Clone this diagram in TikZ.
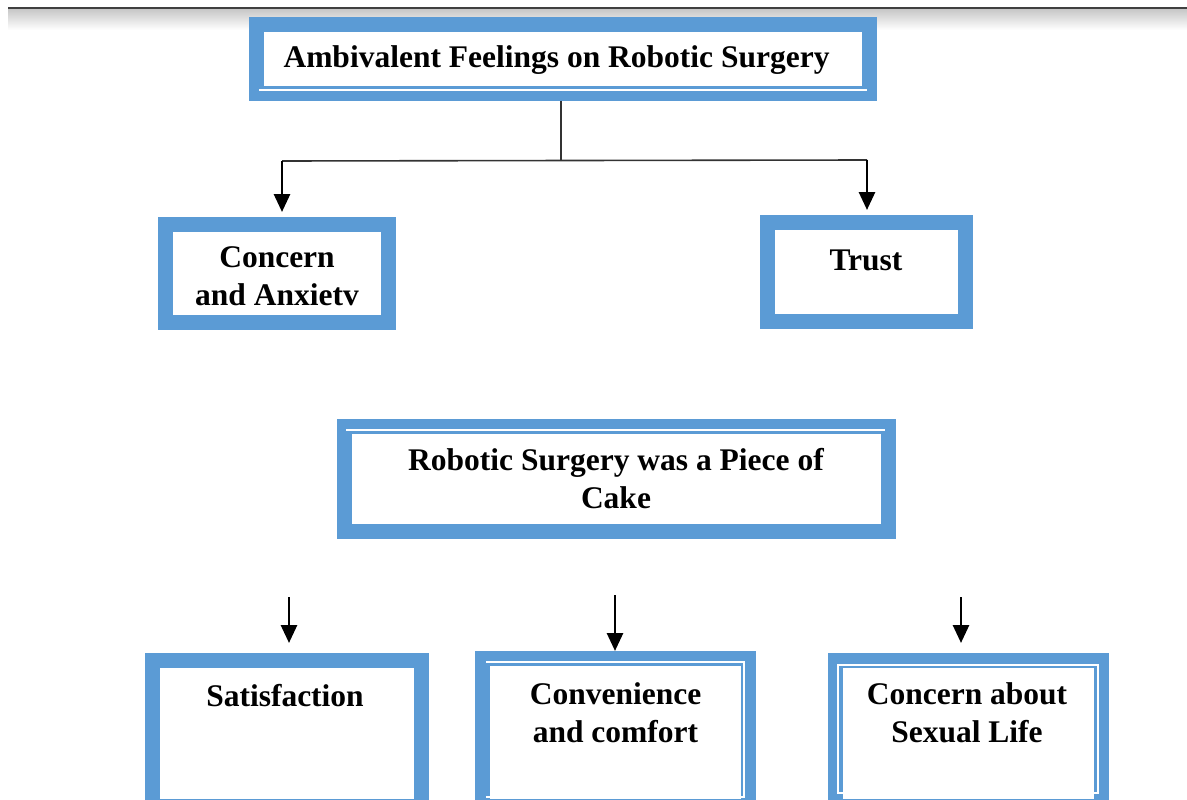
\documentclass[tikz,border=0pt]{standalone}
\usepackage{fontspec}
\setmainfont{Liberation Serif}
\usetikzlibrary{arrows.meta}
\definecolor{boxblue}{RGB}{91,155,213}

\tikzset{
  box/.style={draw=boxblue, line width=15pt, fill=white, inner sep=0pt, outer sep=7.5pt},
  lbl/.style={font=\fontsize{31.5}{37.5}\selectfont\bfseries, align=center, anchor=base, inner sep=0pt},
  conn/.style={line width=1.6pt, black!80},
  arr/.style={line width=2.8pt, -{Triangle[length=18pt,width=16pt]}},
  wline/.style={white, line width=1.5pt}
}

\begin{document}
\begin{tikzpicture}[x=1pt,y=-1pt]
\useasboundingbox (0,0) rectangle (1187,800);
\clip (0,0) rectangle (1187,800);

\shade[top color=black!22, bottom color=white] (8,9) rectangle (1187,30);
\draw[line width=2.4pt, black!75] (8,8) -- (1187,8);

% first theme
\node[box, minimum width=613pt, minimum height=69pt] (feel) at (563,59) {};
\draw[wline] (259,90) -- (867,90);
\node[lbl] (feelt) at (556.5,68) {Ambivalent Feelings on Robotic Surgery};

\node[box, minimum width=223pt, minimum height=98pt] (anx) at (277,273.5) {};
\node[lbl] (anxt) at (277,305) {Concern\\and Anxietv};

\node[box, minimum width=198pt, minimum height=99pt] (trust) at (866.5,272) {};
\node[lbl] (trustt) at (866,270) {Trust};

\coordinate (split) at (561,160);
\coordinate (l) at (282,161);
\coordinate (r) at (867,160);
\draw[conn] (feel.south -| split) -- (split);
\draw[conn] (l) -- (r);
\draw[arr, shorten >=5pt] (l) -- (l |- anx.north);
\draw[arr, shorten >=5pt] (r) -- (r |- trust.north);

% second theme
\node[box, minimum width=544pt, minimum height=105pt] (cake) at (616.5,479) {};
\draw[wline] (346,430) -- (885,430);
\node[lbl] (caket) at (616,508) {Robotic Surgery was a Piece of\\Cake};

\node[box, minimum width=269pt, minimum height=145.5pt] (sat) at (287,733.25) {};
\node[lbl] (satt) at (285,706) {Satisfaction};

\node[box, minimum width=266pt, minimum height=147.5pt] (conv) at (615.5,732.25) {};
\draw[wline] (486,662) -- (744,662) -- (744,797) -- (486,797);
\node[lbl] (convt) at (615.5,742) {Convenience\\and comfort};

\node[box, minimum width=266pt, minimum height=145.5pt] (sex) at (968.5,733.25) {};
\draw[wline] (838,665) rectangle (1098,793);
\node[lbl] (sext) at (967,742) {Concern about\\Sexual Life};

\coordinate (a1) at (289,597);
\coordinate (a2) at (615,595);
\coordinate (a3) at (961,597);
\draw[arr, shorten >=10pt] (a1) -- (a1 |- sat.north);
\draw[arr] (a2) -- (a2 |- conv.north);
\draw[arr, shorten >=10pt] (a3) -- (a3 |- sex.north);
\end{tikzpicture}
\end{document}
